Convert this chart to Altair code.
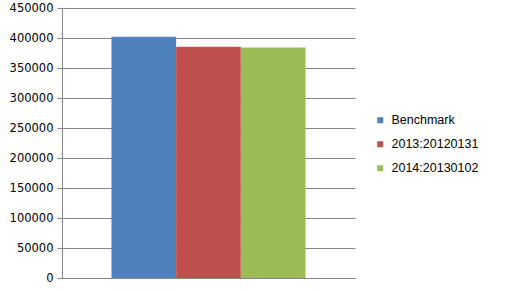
import altair as alt
import pandas as pd

series = ["Benchmark", "2013:20120131", "2014:20130102"]
values = [402000, 385500, 384300]
colors = ["#4F81BD", "#C0504D", "#9BBB59"]
y_ticks = [0, 50000, 100000, 150000, 200000, 250000, 300000, 350000, 400000, 450000]

df = pd.DataFrame({"cat": [""] * len(series), "series": series, "value": values})

chart = alt.Chart(df).mark_bar().encode(
    x=alt.X("cat:N", title=None,
            scale=alt.Scale(paddingInner=0, paddingOuter=0.255),
            axis=alt.Axis(labels=False, ticks=False, grid=False,
                          domainColor="#868686", domainWidth=1)),
    xOffset=alt.XOffset("series:N", sort=series, scale=alt.Scale(paddingInner=0, paddingOuter=0)),
    y=alt.Y("value:Q", title=None,
            scale=alt.Scale(domain=[0, 450000], nice=False),
            axis=alt.Axis(values=y_ticks, format="d", grid=True, gridColor="#868686",
                          gridWidth=1, tickColor="#868686", tickSize=5, domainColor="#868686",
                          labelFont="DejaVu Sans", labelFontSize=11.5, labelColor="#000000",
                          labelPadding=4)),
    color=alt.Color("series:N", sort=series,
                    scale=alt.Scale(domain=series, range=colors),
                    legend=alt.Legend(title=None, orient="none", legendX=312, legendY=106,
                                      symbolType="square", symbolSize=36, symbolStrokeWidth=0,
                                      labelFont="Liberation Sans", labelFontSize=12.5,
                                      labelColor="#000000", labelOffset=5, rowPadding=11,
                                      padding=0)),
).properties(
    width=293, height=270,
    background="white",
    autosize=alt.AutoSizeParams(type="none"),
    padding={"left": 62, "top": 8, "right": 155, "bottom": 13},
).configure_view(strokeWidth=0)

chart.save("out.html", embed_options={"renderer": "svg", "actions": False})
